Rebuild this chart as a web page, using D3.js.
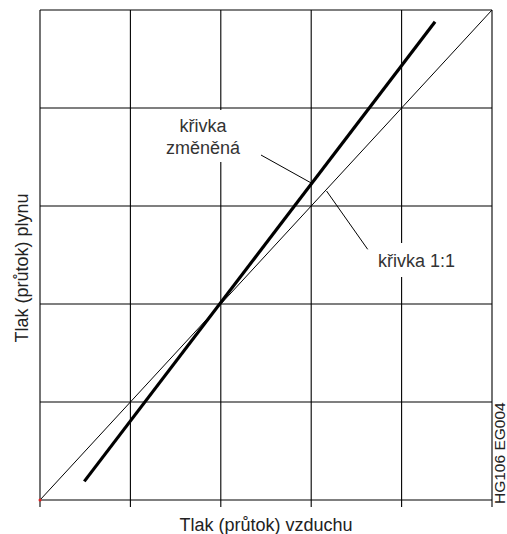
<!DOCTYPE html>
<html><head><meta charset="utf-8">
<script src="https://cdn.jsdelivr.net/npm/d3@7/dist/d3.min.js"></script>
<style>html,body{margin:0;padding:0;background:#fff}svg{display:block}</style>
</head><body><svg id="c" width="507" height="534"></svg>
<script>
const xTicks = [0, 1, 2, 3, 4, 5];
const yTicks = [0, 1, 2, 3, 4, 5];
const lineOneToOne = [[0, 0], [5, 5]];
const lineChanged = [[0.49, 0.19], [4.37, 4.88]];
const labelChanged = ["křivka", "změněná"];
const labelOne = "křivka 1:1";
const xTitle = "Tlak (průtok) vzduchu";
const yTitle = "Tlak (průtok) plynu";
const code = "HG106 EG004";

const svg = d3.select("#c");
const L = 40, R = 492, T = 10, B = 500;
const x = d3.scaleLinear().domain([0, 5]).range([L, R]);
const y = d3.scaleLinear().domain([0, 5]).range([B, T]);
const font = "'Liberation Sans', Arial, sans-serif";

// grid
svg.append("g").selectAll("line").data(xTicks).join("line")
  .attr("x1", d => x(d)).attr("x2", d => x(d)).attr("y1", T).attr("y2", B + 7)
  .attr("stroke", "#000").attr("stroke-width", 1.1);
svg.append("g").selectAll("line").data(yTicks).join("line")
  .attr("x1", L).attr("x2", R).attr("y1", d => y(d)).attr("y2", d => y(d))
  .attr("stroke", "#000").attr("stroke-width", 1.1);

const line = d3.line().x(d => x(d[0])).y(d => y(d[1]));
svg.append("path").attr("d", line(lineOneToOne)).attr("fill", "none")
  .attr("stroke", "#000").attr("stroke-width", 1);
svg.append("path").attr("d", line(lineChanged)).attr("fill", "none")
  .attr("stroke", "#000").attr("stroke-width", 3.2);

// pointers
svg.append("line").attr("x1", x(2.445)).attr("y1", y(3.52)).attr("x2", x(3)).attr("y2", y(3.235))
  .attr("stroke", "#000").attr("stroke-width", 1);
svg.append("line").attr("x1", x(3.17)).attr("y1", y(3.153)).attr("x2", x(3.625)).attr("y2", y(2.558))
  .attr("stroke", "#000").attr("stroke-width", 1);

// label boxes
svg.append("rect").attr("x", 160).attr("y", 110).attr("width", 88).attr("height", 52).attr("fill", "#fff");
svg.append("rect").attr("x", 372).attr("y", 243).attr("width", 90).attr("height", 34).attr("fill", "#fff");

svg.append("text").attr("font-family", font).attr("font-size", 18)
  .attr("fill", "#333").attr("text-anchor", "middle")
  .selectAll("tspan").data(labelChanged).join("tspan")
  .attr("x", 203).attr("y", (d, i) => 132 + i * 22).text(d => d);
svg.append("text").attr("x", 378).attr("y", 267).attr("font-family", font).attr("font-size", 18)
  .attr("fill", "#333").text(labelOne);

// origin point
svg.append("circle").attr("cx", x(0)).attr("cy", y(0)).attr("r", 1.5).attr("fill", "#e02020");

// titles
svg.append("text").attr("x", 266).attr("y", 531).attr("font-family", font).attr("font-size", 18)
  .attr("fill", "#222").attr("text-anchor", "middle").text(xTitle);
svg.append("text").attr("transform", `translate(28,268) rotate(-90)`)
  .attr("font-family", font).attr("font-size", 18).attr("fill", "#222")
  .attr("text-anchor", "middle").text(yTitle);
svg.append("text").attr("transform", `translate(505,504) rotate(-90)`)
  .attr("font-family", font).attr("font-size", 15.5).attr("fill", "#222").text(code);
</script></body></html>
